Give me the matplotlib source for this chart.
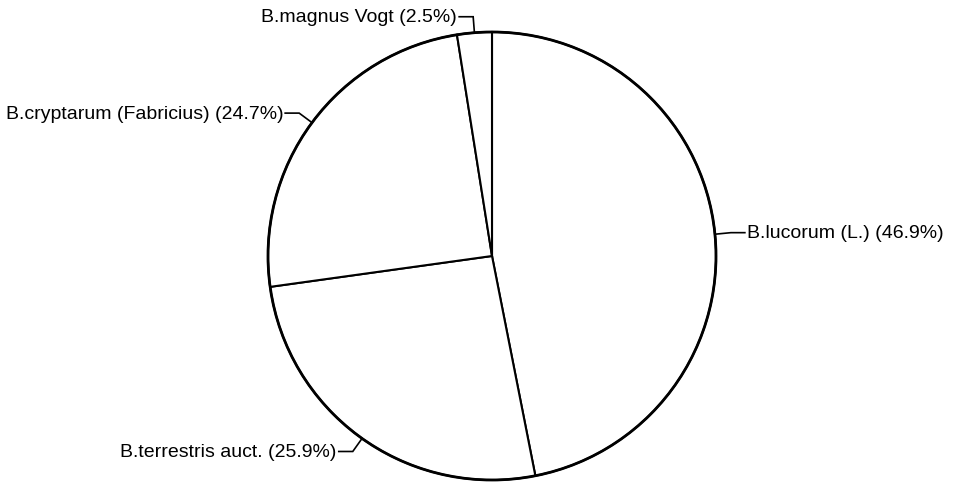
import numpy as np
import matplotlib
matplotlib.use("Agg")
import matplotlib.pyplot as plt
from matplotlib.patches import Circle

labels = ["B.lucorum (L.)", "B.terrestris auct.", "B.cryptarum (Fabricius)", "B.magnus Vogt"]
values = [46.9, 25.9, 24.7, 2.5]

W, H = 954, 482
fig = plt.figure(figsize=(W / 100, H / 100), dpi=100)
ax = fig.add_axes([0, 0, 1, 1])

cx, cy, r = 492, 226, 224
wedges, _ = ax.pie(values, startangle=90, counterclock=False, center=(cx, cy), radius=r,
                   colors=["white"] * len(values),
                   wedgeprops=dict(edgecolor="black", linewidth=1.5), frame=True)
ax.set_xlim(0, W)
ax.set_ylim(0, H)
ax.set_aspect("equal")
ax.axis("off")
ax.add_patch(Circle((cx, cy), r, fill=False, edgecolor="black", linewidth=2.0, zorder=3))

d, h, gap = 16, 14, 2
for w, lab, v in zip(wedges, labels, values):
    ang = np.deg2rad((w.theta1 + w.theta2) / 2)
    ux, uy = np.cos(ang), np.sin(ang)
    px, py = cx + r * ux, cy + r * uy
    ex, ey = px + d * ux, py + d * uy
    side = 1 if ux > 0 else -1
    fx = ex + side * h
    ax.plot([px, ex, fx], [py, ey, ey], color="black", lw=1.2, solid_joinstyle="miter", zorder=4)
    ax.text(fx + side * gap, ey - 1, f"{lab} ({v}%)", ha="left" if side > 0 else "right",
            va="center", fontsize=14, family=["Liberation Sans", "DejaVu Sans"], color="black")

fig.savefig("out.png", dpi=100, facecolor="white")
